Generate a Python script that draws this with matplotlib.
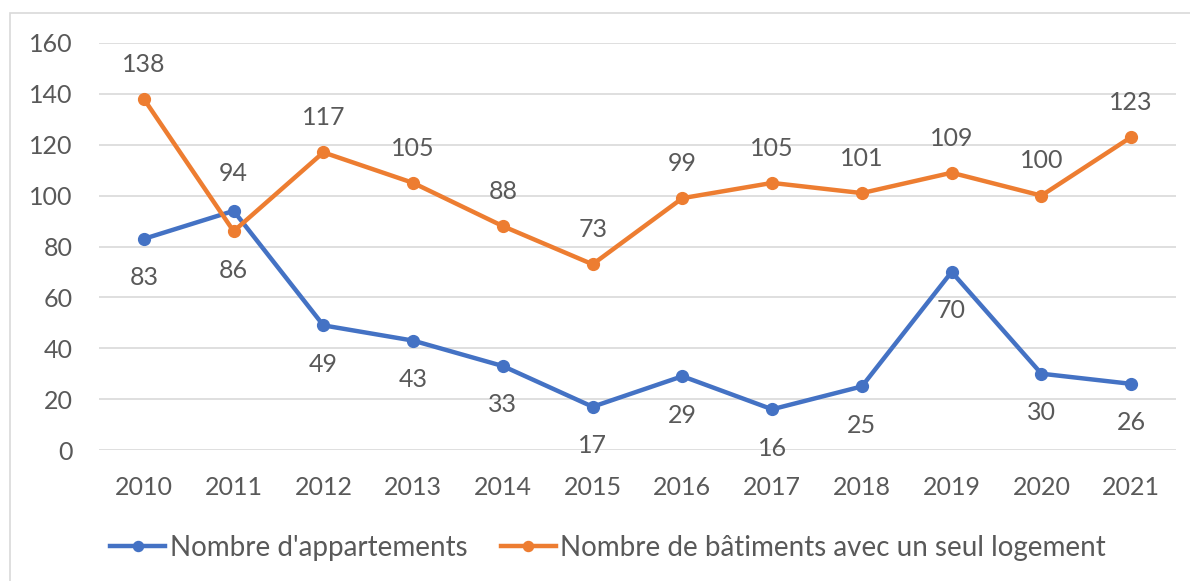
import matplotlib
matplotlib.use("Agg")
import matplotlib.pyplot as plt
from matplotlib.patches import Rectangle

years = ["2010", "2011", "2012", "2013", "2014", "2015", "2016", "2017", "2018", "2019", "2020", "2021"]
appartements = [83, 94, 49, 43, 33, 17, 29, 16, 25, 70, 30, 26]
batiments = [138, 86, 117, 105, 88, 73, 99, 105, 101, 109, 100, 123]
yticks = [0, 20, 40, 60, 80, 100, 120, 140, 160]

plt.rcParams['font.family'] = ['Lato', 'DejaVu Sans']
TXT = '#595959'
BLUE = '#4472C4'
ORANGE = '#ED7D31'
FS = 18

fig = plt.figure(figsize=(11.9, 5.81), dpi=100)
fig.patches.append(Rectangle((10/1190, -0.1), 1.2, 1.1 - 13/581, transform=fig.transFigure,
                             fill=False, edgecolor='#D9D9D9', linewidth=1.2))
ax = fig.add_axes([99/1190, 1 - 450/581, 1077/1190, 407/581])

x = list(range(len(years)))
ax.plot(x, appartements, color=BLUE, lw=3.2, marker='o', ms=8.5, label="Nombre d'appartements", zorder=3)
ax.plot(x, batiments, color=ORANGE, lw=3.2, marker='o', ms=8.5, label="Nombre de bâtiments avec un seul logement", zorder=3)

for i, (a, b) in enumerate(zip(appartements, batiments)):
    a_above = a > b
    ax.annotate(str(a), (i, a), xytext=(0, 27 if a_above else -28), textcoords='offset points',
                ha='center', va='center', fontsize=FS, color=TXT)
    ax.annotate(str(b), (i, b), xytext=(0, 25 if not a_above else -28), textcoords='offset points',
                ha='center', va='center', fontsize=FS, color=TXT)

ax.set_xlim(-0.5, len(years) - 0.5)
ax.set_ylim(0, 160)
ax.set_yticks(yticks)
ax.set_xticks(x)
ax.set_xticklabels(years)
ax.grid(axis='y', color='#D9D9D9', lw=1.2)
ax.set_axisbelow(True)
for s in ax.spines.values():
    s.set_visible(False)
ax.tick_params(axis='both', length=0, labelsize=FS, colors=TXT)
ax.tick_params(axis='y', pad=19)
ax.tick_params(axis='x', pad=19)

leg = fig.legend(loc='center', bbox_to_anchor=(608/1190, 1 - 548/581), ncol=2, frameon=False,
                 fontsize=20, handlelength=2.0, handletextpad=0.15, columnspacing=1.2, markerscale=0.85)
for t in leg.get_texts():
    t.set_color(TXT)

fig.savefig("out.png", dpi=100)
